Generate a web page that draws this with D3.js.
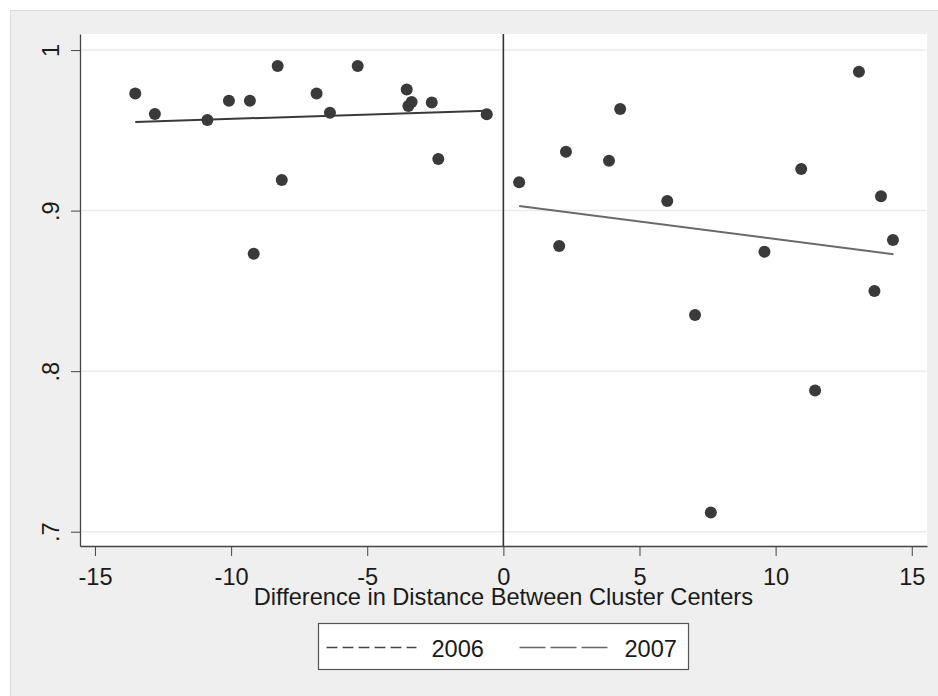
<!DOCTYPE html>
<html>
<head>
<meta charset="utf-8">
<script src="https://cdn.jsdelivr.net/npm/d3@7"></script>
<style>
  body { margin: 0; background: #fff; }
  text { font-family: "Liberation Sans", Arial, sans-serif; fill: #1a1a1a; }
</style>
</head>
<body>
<div id="chart"></div>
<script>
// points left of the cutoff (x, share)
const leftX = [-13.52, -12.80, -10.87, -10.08, -9.31, -9.17, -8.29, -8.14, -6.86, -6.37, -5.35, -3.55, -3.37, -3.49, -2.63, -2.39, -0.61];
const leftY = [0.9730, 0.9602, 0.9564, 0.9684, 0.9684, 0.8732, 0.9900, 0.9191, 0.9730, 0.9610, 0.9900, 0.9755, 0.9676, 0.9651, 0.9674, 0.9321, 0.9600];

// points right of the cutoff
const rightX = [0.58, 2.05, 2.30, 3.88, 4.29, 6.02, 7.04, 7.62, 9.59, 10.94, 11.45, 13.06, 13.63, 13.87, 14.31];
const rightY = [0.9176, 0.8780, 0.9367, 0.9311, 0.9633, 0.9060, 0.8350, 0.7119, 0.8744, 0.9259, 0.7879, 0.9865, 0.8499, 0.9089, 0.8817];

// fitted lines (endpoints)
const fit2006 = [[-13.52, 0.9552], [-0.61, 0.9622]];
const fit2007 = [[0.58, 0.9029], [14.33, 0.8728]];

const xTicks = [-15, -10, -5, 0, 5, 10, 15];
const yTicks = [0.7, 0.8, 0.9, 1];
const yTickLabels = [".7", ".8", ".9", "1"];
const legendLabels = ["2006", "2007"];

const W = 938, H = 696;
const FS = "23.6px";
const margin = {top: 34, right: 11, bottom: 150, left: 80},
      width = W - margin.left - margin.right,
      height = H - margin.top - margin.bottom;

const root = d3.select("#chart").append("svg")
    .attr("width", W)
    .attr("height", H);

// outer gray panel
root.append("rect")
    .attr("x", 10.5).attr("y", 10.5)
    .attr("width", W).attr("height", H)
    .attr("fill", "#efefef")
    .attr("stroke", "#dcdcdc");

const svg = root.append("g")
    .attr("transform", `translate(${margin.left},${margin.top})`);

// plot region
svg.append("rect")
    .attr("width", width).attr("height", height)
    .attr("fill", "#fff");

const x = d3.scaleLinear()
    .domain([-15.55, 15.56])
    .range([0, width]);

const y = d3.scaleLinear()
    .domain([0.6911, 1.01])
    .range([height, 0]);

// gridlines
svg.selectAll(".grid")
    .data(yTicks)
    .enter().append("line")
    .attr("x1", 0).attr("x2", width)
    .attr("y1", d => y(d)).attr("y2", d => y(d))
    .attr("stroke", "#ebebeb")
    .attr("stroke-width", 1.5);

// y axis
const yAxis = svg.append("g")
    .call(d3.axisLeft(y).tickValues(yTicks).tickSize(9).tickSizeOuter(0)
      .tickFormat((d, i) => yTickLabels[i]));
yAxis.select(".domain").attr("stroke", "#444").attr("stroke-width", 1.3);
yAxis.selectAll("line").attr("stroke", "#444");
yAxis.selectAll("text")
    .attr("transform", "rotate(-90)")
    .attr("x", 0).attr("y", -21).attr("dy", 0)
    .attr("text-anchor", "middle")
    .style("font-size", FS)
    .style("font-family", "Liberation Sans, Arial, sans-serif")
    .attr("fill", "#1a1a1a");

// x axis
const xAxis = svg.append("g")
    .attr("transform", `translate(0,${height})`)
    .call(d3.axisBottom(x).tickValues(xTicks).tickSize(10).tickSizeOuter(0)
      .tickFormat(d => d < 0 ? "-" + Math.abs(d) : d));
xAxis.select(".domain").attr("stroke", "#444").attr("stroke-width", 1.3);
xAxis.selectAll("line").attr("stroke", "#444");
xAxis.selectAll("text")
    .attr("y", 38.5).attr("dy", 0)
    .style("font-size", FS)
    .style("font-family", "Liberation Sans, Arial, sans-serif")
    .attr("fill", "#1a1a1a");

svg.append("text")
    .attr("x", x(0))
    .attr("y", height + 59)
    .attr("text-anchor", "middle")
    .style("font-size", FS)
    .text("Difference in Distance Between Cluster Centers");

// cutoff line
svg.append("line")
    .attr("x1", x(0)).attr("x2", x(0))
    .attr("y1", 0).attr("y2", height)
    .attr("stroke", "#333")
    .attr("stroke-width", 1.6);

// fit lines
const line = d3.line().x(d => x(d[0])).y(d => y(d[1]));
svg.append("path")
    .datum(fit2006)
    .attr("d", line)
    .attr("fill", "none")
    .attr("stroke", "#3a3a3a")
    .attr("stroke-width", 2);
svg.append("path")
    .datum(fit2007)
    .attr("d", line)
    .attr("fill", "none")
    .attr("stroke", "#6a6a6a")
    .attr("stroke-width", 2);

// scatter
const pts = leftX.map((v, i) => [v, leftY[i]])
    .concat(rightX.map((v, i) => [v, rightY[i]]));
svg.selectAll(".dot")
    .data(pts)
    .enter().append("circle")
    .attr("class", "dot")
    .attr("cx", d => x(d[0]))
    .attr("cy", d => y(d[1]))
    .attr("r", 6)
    .attr("fill", "#3a3a3a");

// legend
const lg = root.append("g").attr("transform", "translate(318.5,623.5)");
lg.append("rect")
    .attr("width", 370).attr("height", 46)
    .attr("fill", "#fff")
    .attr("stroke", "#555")
    .attr("stroke-width", 1.2);
const dashes = ["11,5", "26,5"];
const colors = ["#444", "#666"];
const offs = [8, 201];
legendLabels.forEach((lab, i) => {
  lg.append("line")
    .attr("x1", offs[i]).attr("x2", offs[i] + 90)
    .attr("y1", 24).attr("y2", 24)
    .attr("stroke", colors[i])
    .attr("stroke-width", 1.5)
    .attr("stroke-dasharray", dashes[i]);
  lg.append("text")
    .attr("x", offs[i] + 105)
    .attr("y", 33)
    .style("font-size", FS)
    .text(lab);
});
</script>
</body>
</html>
